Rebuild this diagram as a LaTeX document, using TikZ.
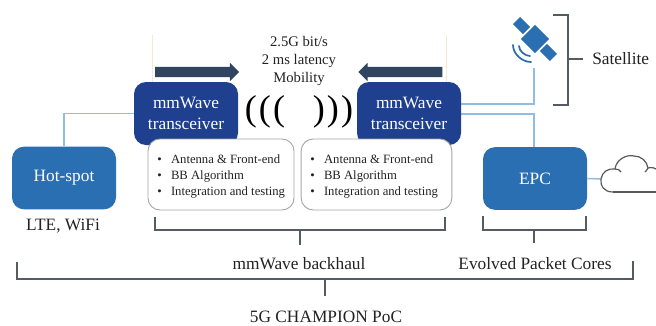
\documentclass[tikz,border=0pt]{standalone}
\usepackage{fontspec}
\setmainfont{Liberation Serif}
\usetikzlibrary{arrows.meta,shapes.arrows}
\definecolor{navy}{HTML}{1F3F8F}
\definecolor{midblue}{HTML}{2A6FB2}
\definecolor{linkblue}{HTML}{8FBDE4}
\definecolor{arrowdark}{HTML}{2F4560}
\definecolor{brace}{HTML}{555B63}
\definecolor{txt}{HTML}{222222}
\definecolor{paleguide}{HTML}{F3EBCF}
\tikzset{
  trx/.style={rectangle,rounded corners=9pt,fill=navy,text=white,minimum width=78pt,minimum height=47.25pt,inner sep=0pt,align=center,font=\fontsize{13}{15.5}\selectfont},
  infobox/.style={rectangle,rounded corners=9pt,draw=black!35,line width=.7pt,fill=white,inner sep=0pt,minimum height=53.25pt},
  hub/.style={rectangle,rounded corners=9pt,fill=midblue,text=white,minimum width=78pt,minimum height=47pt,inner sep=0pt,font=\fontsize{13}{15.5}\selectfont},
  link/.style={draw=linkblue,line width=1.1pt},
  bracket/.style={draw=brace,line width=1.1pt},
  label/.style={text=txt,inner sep=0pt,font=\fontsize{13}{15.5}\selectfont},
  small/.style={text=txt,inner sep=0pt,font=\fontsize{9.5}{12}\selectfont},
  bigarrow/.style={draw=none,fill=arrowdark,single arrow,single arrow head extend=3pt,single arrow head indent=0pt,minimum height=63pt,minimum width=13.5pt,inner sep=3.7pt}
}
\begin{document}
\begin{tikzpicture}[x=.75pt,y=-.75pt]
\useasboundingbox[fill=white] (0,0) rectangle (656,325);
% faint guides
\draw[paleguide,line width=.5pt] (152,35) -- (152,140);
\draw[paleguide,line width=.5pt] (446,35) -- (446,140);
% nodes
\node[hub] (hot) at (64,178) {Hot-spot};
\node[hub] (epc) at (535,178.5) {EPC};
\coordinate (cloudw) at (601,179);
\coordinate (satbase) at (534,68);
\coordinate (epctop) at (534,147);
\coordinate (trup) at (461,104);
\coordinate (trdn) at (461,114);
% links
\draw[link] (hot.north) |- (134,113.5);
\draw[link] (trup) -| (satbase);
\draw[link] (trdn) -| (epctop);
\draw[link] (epc.east) -- (cloudw);
% transceivers
\node[trx] (tl) at (186,113.5) {mmWave\\transceiver};
\node[trx] (tr) at (409,113.5) {mmWave\\transceiver};
% info boxes
\newcommand{\infolist}{%
 \begin{tabular}{@{}l@{\hspace{7pt}}l@{}}
 •&Antenna \& Front-end\\ •&BB Algorithm\\ •&Integration and testing
 \end{tabular}}
\node[infobox,minimum width=109.5pt] (il) at (221,174.5) {};
\node[infobox,minimum width=113pt] (ir) at (376.5,174.5) {};
\node[small,anchor=west] (tl1) at (157,176) {\infolist};
\node[small,anchor=west] (tr1) at (310,176) {\infolist};
% arrows
\node[bigarrow] (al) at (194.5,72) {};
\node[bigarrow,shape border rotate=180] (ar) at (403,72) {};
% top text
\node[label,align=center,font=\fontsize{11}{13.2}\selectfont] (perf) at (299,61) {2.5G bit/s\\2 ms latency\\Mobility};
% waves
\node[inner sep=0pt,font=\fontsize{27}{27}\selectfont\addfontfeature{LetterSpace=6}] (wl) at (265,112) {(((};
\node[inner sep=0pt,font=\fontsize{27}{27}\selectfont\addfontfeature{LetterSpace=6}] (wr) at (333,112) {)))};
% satellite
\begin{scope}[shift={(535,39)},rotate=-45]
  \fill[midblue] (-10,-10) rectangle (10,10);
  \fill[midblue] (-26,-5) rectangle (-12,5);
  \fill[midblue] (12,-5) rectangle (26,5);
\end{scope}
\draw[midblue,line width=1.3pt,line cap=round] (513,45) .. controls (513,54) and (522,62) .. (531,62);
\draw[midblue,line width=1.3pt,line cap=round] (519,46) .. controls (519,51) and (525,56) .. (530,56);
% cloud
\draw[black!65,line width=.9pt,fill=white] (613,192) .. controls (604,192) and (600,186) .. (601,179)
  .. controls (602,172) and (608,168) .. (615,169)
  .. controls (616,160) and (626,154) .. (634,156)
  .. controls (641,156) and (647,161) .. (648,168)
  .. controls (652,167) and (655,168) .. (656,169);
\draw[black!65,line width=.9pt] (613,192) -- (656,192);
\draw[black!65,line width=.9pt] (615,169) .. controls (618,169) and (620,170) .. (621,172);
\draw[black!65,line width=.9pt] (648,168) .. controls (647,170) and (646,171) .. (645,172);
% satellite bracket
\coordinate (sb) at (568,59);
\node[label,anchor=west] (sat) at (592,59) {Satellite};
\draw[bracket] (553,15) -- (568,15) -- (568,105) -- (553,105);
\draw[bracket] (sb) -- (583,59);
% lower labels
\node[label] (ltew) at (63,226) {LTE, WiFi};
\node[label] (mb) at (299,264) {mmWave backhaul};
\node[label] (ep) at (535,264) {Evolved Packet Cores};
\node[label] (poc) at (326,317) {5G CHAMPION PoC};
% brackets
\draw[bracket] (155,217) -- (155,230) -- (445,230) -- (445,217);
\draw[bracket] (300,230) -- (300,245);
\draw[bracket] (483,216) -- (483,230) -- (586,230) -- (586,216);
\draw[bracket] (534,230) -- (534,243);
\draw[bracket] (17,262) -- (17,279) -- (633,279) -- (633,261);
\draw[bracket] (325,279) -- (325,296);
\end{tikzpicture}
\end{document}
